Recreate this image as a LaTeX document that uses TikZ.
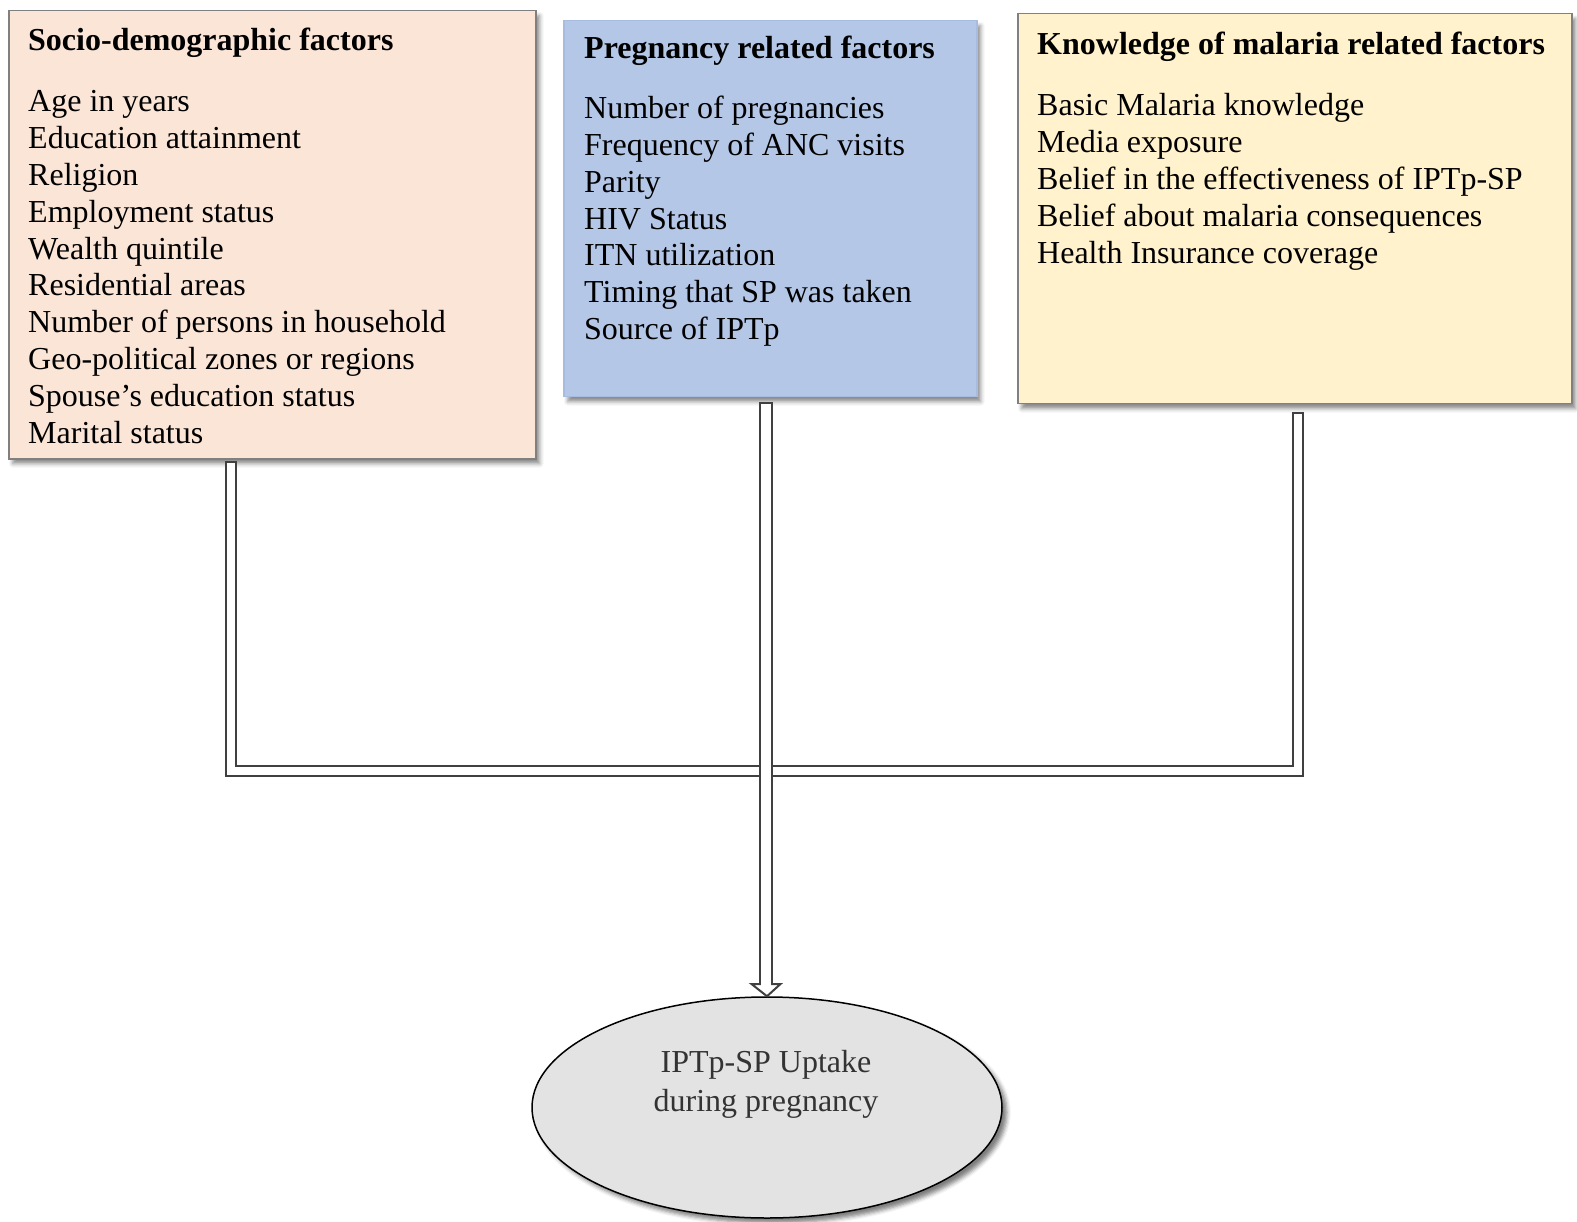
\documentclass[tikz,border=0pt]{standalone}
\usepackage{fontspec}
\setmainfont{Liberation Serif}
\usetikzlibrary{shapes.geometric,shadows.blur,calc}
\definecolor{peach}{HTML}{FBE5D6}
\definecolor{bluef}{HTML}{B4C7E7}
\definecolor{bluee}{HTML}{A7BCE0}
\definecolor{yellowf}{HTML}{FFF2CC}
\definecolor{linec}{HTML}{404040}
\definecolor{boxedge}{HTML}{808080}
\definecolor{elltxt}{HTML}{333333}
\begin{document}
\begin{tikzpicture}[x=1pt,y=-1pt,
  box/.style={rectangle, anchor=north west, inner sep=0pt, line width=1.5pt,
    blur shadow={shadow xshift=4pt, shadow yshift=-5pt, shadow blur radius=4pt, shadow opacity=45}},
  txt/.style={anchor=base west, inner sep=0pt, font=\fontsize{32}{36.8}\selectfont},
  ttl/.style={anchor=base west, inner sep=0pt, font=\fontsize{32}{36.8}\selectfont\bfseries},
  outer/.style={line width=12pt, draw=linec, line join=miter},
  inner/.style={line width=8pt, draw=white, line join=miter, shorten <=2pt},
  shaftout/.style={line width=14pt, draw=linec},
  shaftin/.style={line width=10pt, draw=white, shorten <=2pt}]
\useasboundingbox (0,0) rectangle (1577,1222);

% boxes
\node[box, draw=boxedge, fill=peach, minimum width=527pt, minimum height=448pt] (b1) at (8,10) {};
\node[box, draw=bluee, fill=bluef, minimum width=413pt, minimum height=376pt] (b2) at (563,20) {};
\node[box, draw=boxedge, fill=yellowf, minimum width=554pt, minimum height=390pt] (b3) at (1017,13) {};

% box 1 text
\node[ttl] (t1h) at (28,51) {Socio-demographic factors};
\foreach \s [count=\i from 0] in {Age in years,Education attainment,Religion,Employment status,Wealth quintile,Residential areas,Number of persons in household,Geo-political zones or regions,Spouse’s education status,Marital status}
  \node[txt] (s\i) at (28,112+36.8*\i) {\s};

% box 2 text
\node[ttl] (t2h) at (584,59) {Pregnancy related factors};
\foreach \s [count=\i from 0] in {Number of pregnancies,Frequency of ANC visits,Parity,HIV Status,ITN utilization,Timing that SP was taken,Source of IPTp}
  \node[txt] (p\i) at (584,119+36.7*\i) {\s};

% box 3 text
\node[ttl] (t3h) at (1037,55) {Knowledge of malaria related factors};
\foreach \s [count=\i from 0] in {Basic Malaria knowledge,Media exposure,Belief in the effectiveness of IPTp-SP,Belief about malaria consequences,Health Insurance coverage}
  \node[txt] (k\i) at (1037,116+36.9*\i) {\s};

% outcome ellipse
\node[ellipse, draw=black, line width=1.5pt, fill=gray!22, minimum width=470pt, minimum height=221pt,
  blur shadow={shadow xshift=5pt, shadow yshift=-5pt, shadow blur radius=4pt, shadow opacity=50}] (ell) at (767,1107.5) {};
\node[anchor=base, inner sep=0pt, text=elltxt, font=\fontsize{32}{39.5}\selectfont] (e1) at (766,1072) {IPTp-SP Uptake};
\node[anchor=base, inner sep=0pt, text=elltxt, font=\fontsize{32}{39.5}\selectfont] (e2) at (766,1111.5) {during pregnancy};

% connector coordinates
\coordinate (c1) at (230.5,461);
\coordinate (j1) at (230.5,771);
\coordinate (jm) at (766,771);
\coordinate (c3) at (1297.5,412);
\coordinate (j3) at (1297.5,771);
\coordinate (c2) at (766,402);
\coordinate (hb) at (766,984);

% side connectors
\draw[outer] (c1) -- (j1) -- (jm);
\draw[inner] (c1) -- (j1) -- (jm);
\draw[outer] (c3) -- (j3) -- (jm);
\draw[inner] (c3) -- (j3) -- (jm);

% main shaft and head
\draw[shaftout] (c2) -- (hb);
\filldraw[fill=white, draw=linec, line width=2pt, line join=miter]
  ($(hb)+(-14.5,0)$) -- ($(hb)+(14.5,0)$) -- (ell.north) -- cycle;
\draw[shaftin] (c2) -- ($(hb)+(0,1.5)$);
\end{tikzpicture}
\end{document}
